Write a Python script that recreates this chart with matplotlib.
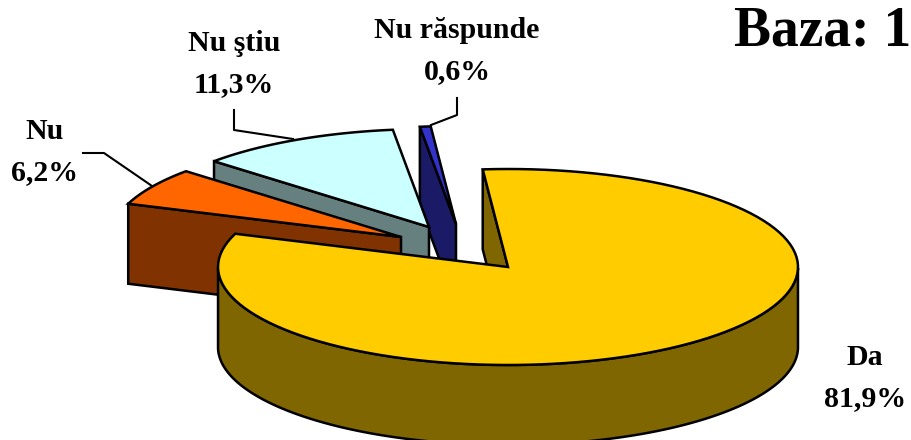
import numpy as np
import matplotlib
matplotlib.use('Agg')
import matplotlib.pyplot as plt
from matplotlib.patches import Polygon

# valorile din grafic
categorii = ['Da', 'Nu', 'Nu ştiu', 'Nu răspunde']
valori = [81.9, 6.2, 11.3, 0.6]
etichete = ['81,9%', '6,2%', '11,3%', '0,6%']
culori = ['#FFCC00', '#FF6600', '#CCFFFF', '#3333CC']
culori_lat = ['#806600', '#803300', '#668080', '#1A1A66']

# varful fiecarei felii (pie explodat), in pixeli
varfuri = [(508, 267), (401, 237), (429, 227), (456, 224)]
RX, RY, H = 290, 98, 80
START = 95


def arc(cx, cy, a, b, n=120):
    t = np.radians(np.linspace(a, b, n))
    return np.column_stack([cx + RX * np.cos(t), cy - RY * np.sin(t)])


def felie(ax, cx, cy, a, b, col, lat):
    # pereti radiali vizibili
    for ang, vizibil in ((a, np.cos(np.radians(a)) < 0), (b, np.cos(np.radians(b)) > 0)):
        if vizibil:
            p = arc(cx, cy, ang, ang, 1)[0]
            q = [(cx, cy), p, (p[0], p[1] + H), (cx, cy + H)]
            ax.add_patch(Polygon(q, fc=lat, ec='k', lw=1.8, joinstyle='miter'))
    # peretele exterior, doar jumatatea din fata
    rim = arc(cx, cy, a, b, 300)
    t = np.linspace(a, b, 300)
    rim = rim[np.sin(np.radians(t)) <= 0]
    if len(rim):
        jos = rim[::-1] + [0, H]
        ax.add_patch(Polygon(np.vstack([rim, jos]), fc=lat, ec='k', lw=1.8))
    # fata de sus
    sus = np.vstack([[(cx, cy)], arc(cx, cy, a, b)])
    ax.add_patch(Polygon(sus, fc=col, ec='k', lw=1.8, joinstyle='miter'))


fig = plt.figure(figsize=(9.11, 4.4), dpi=100)
ax = fig.add_axes([0, 0, 1, 1])
ax.set_xlim(0, 911)
ax.set_ylim(440, 0)
ax.axis('off')

# unghiurile felilor din valori
unghiuri = START - np.cumsum([0] + [v * 3.6 for v in valori])

# liniile de legatura
ax.plot([83, 104, 152], [153, 153, 186], color='k', lw=1.5)
ax.plot([234, 234, 293], [110, 130, 139], color='k', lw=1.5)
ax.plot([457, 457, 431], [98, 115, 125], color='k', lw=1.5)

# se deseneaza din spate in fata
for i in [3, 2, 1, 0]:
    cx, cy = varfuri[i]
    felie(ax, cx, cy, unghiuri[i], unghiuri[i + 1], culori[i], culori_lat[i])

font = dict(family='Liberation Serif', weight='bold', color='k', ha='center', va='center')
poz = [(865, 378), (45, 152), (234, 64), (457, 51)]
for (x, y), c, e in zip(poz, categorii, etichete):
    ax.text(x, y - 20.5, c, fontsize=21.5, **font)
    ax.text(x, y + 20.5, e, fontsize=21.5, **font)

ax.text(823, 31, 'Baza: 1', fontsize=40, **font)

fig.savefig('out.png', dpi=100)
